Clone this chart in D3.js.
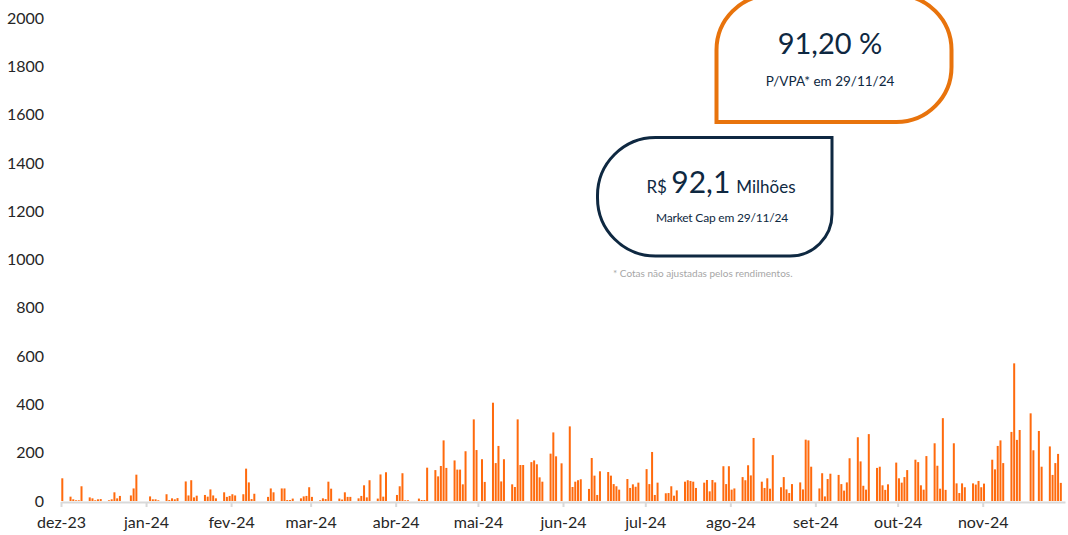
<!DOCTYPE html>
<html>
<head>
<meta charset="utf-8">
<script src="https://cdn.jsdelivr.net/npm/d3@7"></script>
<style>
  body { margin: 0; background: #fff; }
  svg { display: block; font-family: Lato, "Open Sans", sans-serif; }
</style>
</head>
<body>
<div id="chart"></div>
<script>
// B3 closed days inside the period (weekends are skipped separately)
const holidays = ["2023-12-25", "2023-12-29", "2024-01-01", "2024-02-12", "2024-02-13",
    "2024-03-29", "2024-05-01", "2024-05-30", "2024-11-15", "2024-11-20"];

// daily traded volume, one array per month, one value per trading day
const volDez = [94, 18, 7, 3, 3, 61, 15, 11, 3, 7, 8, 3, 7, 36, 11, 21, 23, 52, 109];
const volJan = [19, 7, 7, 3, 28, 4, 11, 7, 12, 81, 23, 86, 15, 22, 25, 18, 48, 23, 11, 36, 17, 21];
const volFev = [28, 23, 28, 134, 77, 8, 30, 17, 52, 36, 52, 52, 4, 4, 10, 11, 19, 21, 57];
const volMar = [17, 3, 11, 8, 80, 51, 10, 6, 36, 17, 17, 11, 21, 65, 15, 86, 10, 110, 18, 119];
const volAbr = [25, 61, 115, 3, 3, 0, 10, 4, 4, 138, 128, 102, 145, 251, 137, 168, 130, 130, 69, 206, 338, 211];
const volMai = [173, 79, 407, 157, 228, 81, 173, 69, 58, 338, 149, 149, 161, 168, 152, 98, 80, 196, 284, 185, 156];
const volJun = [309, 58, 80, 86, 90, 50, 178, 105, 25, 123, 120, 105, 70, 61, 47, 91, 54, 69, 59, 76];
const volJul = [132, 70, 203, 25, 76, 32, 33, 61, 22, 44, 80, 86, 83, 80, 54, 76, 87, 40, 87, 77, 144, 70, 144];
const volAgo = [47, 52, 99, 86, 148, 106, 261, 80, 54, 94, 51, 190, 57, 99, 48, 33, 70, 77, 48, 254, 251, 142];
const volSet = [52, 115, 19, 91, 113, 108, 70, 43, 77, 177, 264, 164, 63, 47, 277, 137, 142, 65, 46, 69, 159];
const volOut = [94, 76, 99, 128, 171, 161, 65, 47, 186, 239, 146, 51, 343, 46, 239, 73, 33, 73, 57, 73, 68, 83, 57];
const volNov = [72, 171, 131, 228, 251, 157, 286, 570, 253, 294, 363, 210, 290, 142, 226, 108, 157, 195, 75];

const monthLabels = ["dez-23", "jan-24", "fev-24", "mar-24", "abr-24", "mai-24",
    "jun-24", "jul-24", "ago-24", "set-24", "out-24", "nov-24"];
const yTicks = [0, 200, 400, 600, 800, 1000, 1200, 1400, 1600, 1800, 2000];

const pvpaText = "91,20 %";
const pvpaLabel = "P/VPA* em 29/11/24";
const capValue = "92,1";
const capLabel = "Market Cap em 29/11/24";
const footnote = "* Cotas não ajustadas pelos rendimentos.";

const W = 1068, H = 535;
const navy = "#0E2841";

const start = new Date(2023, 11, 1), end = new Date(2024, 11, 1);
const fmt = d3.timeFormat("%Y-%m-%d");
const tradingDays = d3.timeDay.range(start, end)
    .filter(d => d.getDay() !== 0 && d.getDay() !== 6 && !holidays.includes(fmt(d)));
const volumes = [].concat(volDez, volJan, volFev, volMar, volAbr, volMai,
    volJun, volJul, volAgo, volSet, volOut, volNov);
const data = tradingDays.map((d, i) => ({ date: d, v: volumes[i] }));

const svg = d3.select("#chart").append("svg")
    .attr("width", W)
    .attr("height", H);

const x = d3.scaleTime().domain([start, end]).range([61, 1065]);
const y = d3.scaleLinear().domain([0, 2000]).range([501, 18]);

// bars
svg.append("g").selectAll("rect")
    .data(data)
    .join("rect")
    .attr("x", d => x(d.date) + 0.3)
    .attr("width", 2)
    .attr("y", d => y(d.v))
    .attr("height", d => y(0) - y(d.v))
    .attr("fill", "#FF6A0D");

// x axis
const months = d3.timeMonth.range(start, end);
const xAxis = svg.append("g")
    .attr("transform", "translate(0,502)")
    .call(d3.axisBottom(x)
        .tickValues(months)
        .tickFormat((d, i) => monthLabels[i])
        .tickSizeInner(5)
        .tickSizeOuter(0)
        .tickPadding(10));
xAxis.select(".domain").attr("stroke", "#D9D9D9").attr("stroke-width", 2);
xAxis.selectAll(".tick line").attr("stroke", "#D9D9D9").attr("stroke-width", 2);
xAxis.selectAll(".tick text").attr("font-size", 16).attr("fill", "#262626")
    .attr("font-family", "Lato, sans-serif");

// y axis (labels only)
const yAxis = svg.append("g")
    .attr("transform", "translate(44,0)")
    .call(d3.axisLeft(y).tickValues(yTicks).tickFormat(d3.format("d"))
        .tickSize(0).tickPadding(0));
yAxis.select(".domain").remove();
yAxis.selectAll(".tick text").attr("font-size", 16).attr("fill", "#262626")
    .attr("font-family", "Lato, sans-serif");

// rounded box with per-corner radius [tl, tr, br, bl]
function boxPath(x0, y0, x1, y1, r) {
    const p = d3.path();
    p.moveTo(x0 + r[0], y0);
    p.lineTo(x1 - r[1], y0);
    if (r[1]) p.arcTo(x1, y0, x1, y0 + r[1], r[1]);
    p.lineTo(x1, y1 - r[2]);
    if (r[2]) p.arcTo(x1, y1, x1 - r[2], y1, r[2]);
    p.lineTo(x0 + r[3], y1);
    if (r[3]) p.arcTo(x0, y1, x0, y1 - r[3], r[3]);
    p.lineTo(x0, y0 + r[0]);
    if (r[0]) p.arcTo(x0, y0, x0 + r[0], y0, r[0]);
    p.closePath();
    return p.toString();
}

// P/VPA box
svg.append("path")
    .attr("d", boxPath(716.5, -5, 951.5, 122, [55, 55, 55, 0]))
    .attr("fill", "#fff")
    .attr("stroke", "#E8730C")
    .attr("stroke-width", 4);

svg.append("text")
    .attr("x", 830).attr("y", 54)
    .attr("text-anchor", "middle")
    .attr("font-size", 29)
    .attr("fill", navy)
    .text(pvpaText);

svg.append("text")
    .attr("x", 830).attr("y", 86)
    .attr("text-anchor", "middle")
    .attr("font-size", 13.5)
    .attr("fill", navy)
    .text(pvpaLabel);

// Market cap box
svg.append("path")
    .attr("d", boxPath(597.5, 137.5, 832, 256, [58, 0, 42, 58]))
    .attr("fill", "#fff")
    .attr("stroke", navy)
    .attr("stroke-width", 3);

const cap = svg.append("text")
    .attr("x", 721).attr("y", 193)
    .attr("text-anchor", "middle")
    .attr("fill", navy);
cap.append("tspan").attr("font-size", 17).text("R$ ");
cap.append("tspan").attr("font-size", 30).text(capValue);
cap.append("tspan").attr("font-size", 17).attr("dx", 6).text("Milhões");

svg.append("text")
    .attr("x", 722).attr("y", 222)
    .attr("text-anchor", "middle")
    .attr("font-size", 12)
    .attr("letter-spacing", -0.2)
    .attr("fill", navy)
    .text(capLabel);

svg.append("text")
    .attr("x", 613).attr("y", 277)
    .attr("font-size", 10)
    .attr("fill", "#A6A6A6")
    .text(footnote);
</script>
</body>
</html>
